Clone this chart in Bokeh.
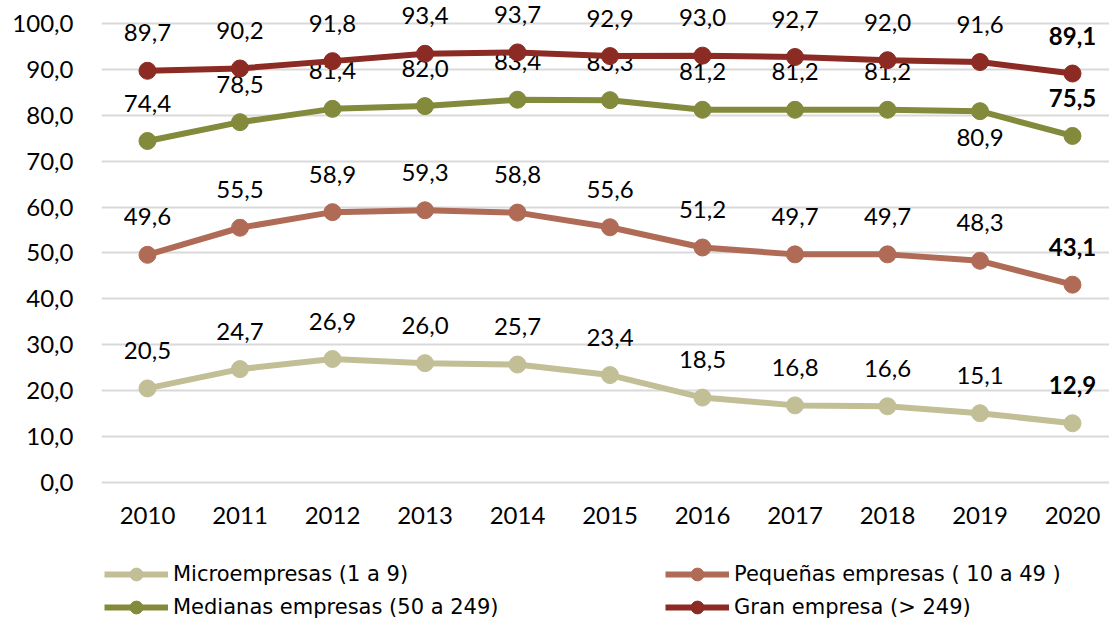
from bokeh.plotting import figure
from bokeh.layouts import column
from bokeh.models import (Range1d, FixedTicker, Legend, LegendItem, ColumnDataSource)
from bokeh.core.properties import value
from bokeh.embed import file_html
from bokeh.resources import INLINE

years = [2010, 2011, 2012, 2013, 2014, 2015, 2016, 2017, 2018, 2019, 2020]
micro = [20.5, 24.7, 26.9, 26.0, 25.7, 23.4, 18.5, 16.8, 16.6, 15.1, 12.9]
pequenas = [49.6, 55.5, 58.9, 59.3, 58.8, 55.6, 51.2, 49.7, 49.7, 48.3, 43.1]
medianas = [74.4, 78.5, 81.4, 82.0, 83.4, 83.3, 81.2, 81.2, 81.2, 80.9, 75.5]
gran = [89.7, 90.2, 91.8, 93.4, 93.7, 92.9, 93.0, 92.7, 92.0, 91.6, 89.1]

names = ["Microempresas (1 a 9)", "Pequeñas empresas ( 10 a 49 )",
         "Medianas empresas (50 a 249)", "Gran empresa (> 249)"]
colors = ["#C2BF97", "#B06B57", "#838A3C", "#8C2A24"]
series = [micro, pequenas, medianas, gran]
# label below the point (True) for specific points
below = [[False] * 11, [False] * 11,
         [False] * 9 + [True, False], [False] * 11]

yticks = list(range(0, 101, 10))

FONT = "Lato"
FS = "24px"

p = figure(width=1109, height=545, output_backend="svg", toolbar_location=None,
           x_range=Range1d(2009.503, 2020.40), y_range=Range1d(-1.09, 105.01),
           min_border_left=101, min_border_right=0, min_border_top=0,
           min_border_bottom=58)
p.outline_line_color = None
p.background_fill_color = "white"

p.xgrid.grid_line_color = None
p.ygrid.grid_line_color = "#D9D9D9"
p.ygrid.grid_line_width = 2
p.ygrid.ticker = FixedTicker(ticks=yticks)

p.yaxis.ticker = FixedTicker(ticks=yticks)
p.yaxis.major_label_overrides = {t: f"{t:.1f}".replace(".", ",") for t in yticks}
p.xaxis.ticker = FixedTicker(ticks=years)
p.xaxis.major_label_overrides = {y: str(y) for y in years}
for ax in (p.xaxis, p.yaxis):
    ax.axis_line_color = None
    ax.major_tick_line_color = None
    ax.minor_tick_line_color = None
    ax.major_tick_out = 0
    ax.major_tick_in = 0
    ax.major_label_text_font = FONT
    ax.major_label_text_font_size = FS
    ax.major_label_text_color = "#000000"
p.yaxis.major_label_standoff = 28
p.xaxis.major_label_standoff = 19

sources = []
for name, col, vals, bel in zip(names, colors, series, below):
    src = ColumnDataSource(dict(
        x=years, y=vals,
        lab=[f"{v:.1f}".replace(".", ",") for v in vals],
        off=[26 if b else -38 for b in bel],
        style=["normal"] * (len(vals) - 1) + ["bold"],
    ))
    sources.append(src)
    p.line("x", "y", source=src, line_color=col, line_width=6)
    p.scatter("x", "y", source=src, size=17, fill_color=col, line_color=col)
    p.text("x", "y", text="lab", source=src, y_offset="off", text_font=value(FONT),
           text_font_size=FS, text_font_style="style", text_align="center",
           text_baseline="middle", text_color="#000000")

# legend strip (its frame is aligned with the chart frame by the column layout)
lf = figure(width=1109, height=82, output_backend="svg", toolbar_location=None,
            x_axis_type=None, y_axis_type=None, x_range=Range1d(0, 1), y_range=Range1d(0, 1),
            min_border=0)
lf.outline_line_color = None
lf.xgrid.grid_line_color = None
lf.ygrid.grid_line_color = None
items = []
for name, col, src in zip(names, colors, sources):
    lr = lf.line("x", "y", source=src, line_color=col, line_width=6)
    sr = lf.scatter("x", "y", source=src, size=13, fill_color=col, line_color=col)
    items.append((name, [lr, sr]))

order = [0, 2, 1, 3]
legend = Legend(items=[LegendItem(label=items[i][0], renderers=items[i][1]) for i in order],
                ncols=2, location=(3, 4))
legend.glyph_width = 64
legend.glyph_height = 32
legend.label_height = 20
legend.label_width = 491
legend.label_standoff = 5
legend.spacing = 1
legend.padding = 0
legend.margin = 0
legend.border_line_color = None
legend.background_fill_alpha = 0
legend.label_text_font = "DejaVu Sans"
legend.label_text_font_size = "21px"
legend.label_text_color = "#000000"
lf.add_layout(legend, "center")

layout = column(p, lf, spacing=0)
open("out.html", "w").write(file_html(layout, INLINE))
